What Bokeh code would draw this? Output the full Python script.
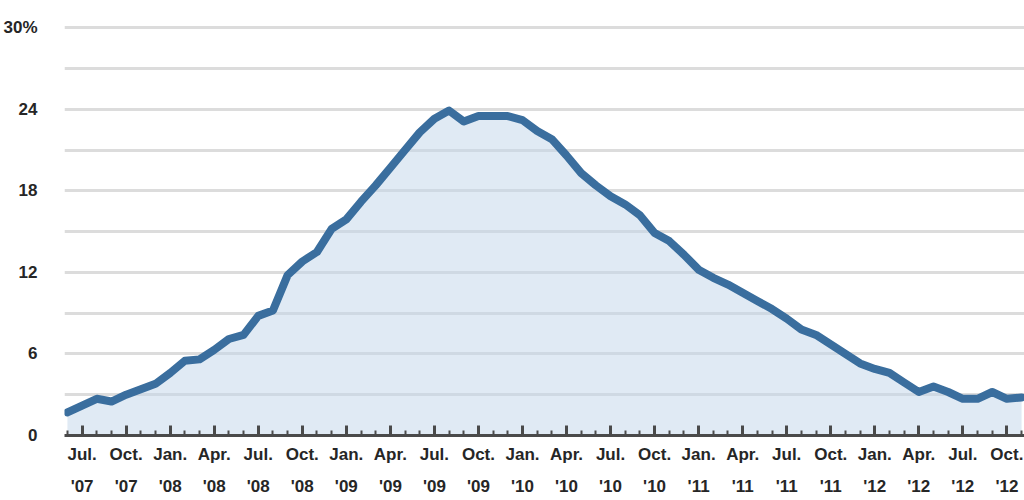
import pandas as pd
from bokeh.plotting import figure
from bokeh.models import FixedTicker, Range1d
from bokeh.embed import file_html
from bokeh.resources import INLINE

# Monthly rate (%), June 2007 .. November 2012
rate = [1.7, 2.2, 2.7, 2.5, 3.0, 3.4, 3.8, 4.6, 5.5, 5.6,
        6.3, 7.1, 7.4, 8.8, 9.2, 11.8, 12.8, 13.5, 15.2, 15.9,
        17.2, 18.4, 19.7, 21.0, 22.3, 23.3, 23.9, 23.1, 23.5, 23.5,
        23.5, 23.2, 22.4, 21.8, 20.6, 19.3, 18.4, 17.6, 17.0, 16.2,
        14.9, 14.3, 13.3, 12.2, 11.6, 11.1, 10.5, 9.9, 9.3, 8.6,
        7.8, 7.4, 6.7, 6.0, 5.3, 4.9, 4.6, 3.9, 3.2, 3.6,
        3.2, 2.7, 2.7, 3.2, 2.7, 2.8]
months = pd.date_range("2007-06-01", periods=len(rate), freq="MS")
month_abbr = {1: "Jan.", 4: "Apr.", 7: "Jul.", 10: "Oct."}
y_label_ticks = [0, 6, 12, 18, 24, 30]
y_label_text = {0: "0", 6: "6", 12: "12", 18: "18", 24: "24", 30: "30%"}
y_grid_ticks = [0, 3, 6, 9, 12, 15, 18, 21, 24, 27, 30]

idx = list(range(len(rate)))
quarter_idx = [i for i, m in enumerate(months) if m.month in month_abbr]
quarter_labels = {i: f"{month_abbr[months[i].month]}\n'{months[i].strftime('%y')}" for i in quarter_idx}

FONT = "Liberation Sans"
TXT = "#262626"

p = figure(width=1024, height=500, output_backend="svg", toolbar_location=None,
           x_range=Range1d(-0.2, 65.2), y_range=Range1d(0, 32.0),
           min_border_left=60, min_border_right=0, min_border_top=0, min_border_bottom=65)
p.outline_line_color = None
p.background_fill_color = "white"
p.border_fill_color = "white"

p.xgrid.visible = False
p.ygrid.ticker = FixedTicker(ticks=y_grid_ticks)
p.ygrid.grid_line_color = "#dcdcdc"
p.ygrid.grid_line_width = 3

p.varea(x=idx, y1=[0] * len(rate), y2=rate, fill_color="#c2d6ea", fill_alpha=0.5)
p.line(idx, rate, line_color="#3a6e9e", line_width=8, line_join="round", line_cap="round")

xa = p.xaxis[0]
xa.ticker = FixedTicker(ticks=quarter_idx, minor_ticks=idx)
xa.major_label_overrides = quarter_labels
xa.axis_line_color = "#4a4a4a"
xa.axis_line_width = 3
xa.major_tick_in = 10
xa.major_tick_out = 0
xa.minor_tick_in = 5
xa.minor_tick_out = 0
xa.major_tick_line_color = "#4a4a4a"
xa.major_tick_line_width = 3
xa.minor_tick_line_color = "#4a4a4a"
xa.minor_tick_line_width = 2
xa.major_label_standoff = 9
xa.major_label_text_font = FONT
xa.major_label_text_font_size = "17px"
xa.major_label_text_font_style = "bold"
xa.major_label_text_color = TXT
xa.major_label_text_line_height = 1.7

ya = p.yaxis[0]
ya.ticker = FixedTicker(ticks=y_label_ticks)
ya.major_label_overrides = y_label_text
ya.axis_line_color = None
ya.major_tick_line_color = None
ya.minor_tick_line_color = None
ya.major_label_standoff = 21
ya.major_label_text_font = FONT
ya.major_label_text_font_size = "17px"
ya.major_label_text_font_style = "bold"
ya.major_label_text_color = TXT

open("out.html", "w").write(file_html(p, INLINE))
